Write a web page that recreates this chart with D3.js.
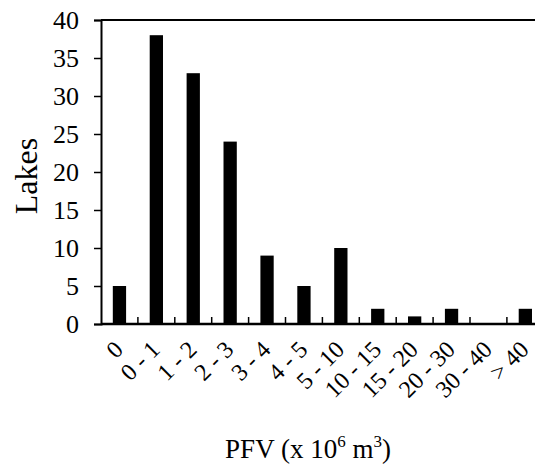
<!DOCTYPE html>
<html>
<head>
<meta charset="utf-8">
<script src="https://cdn.jsdelivr.net/npm/d3@7"></script>
<style>
  body { margin: 0; background: #fff; }
  text { font-family: "Liberation Serif", "Times New Roman", serif; fill: #000; }
</style>
</head>
<body>
<div id="chart"></div>
<script>
// PFV classes (x 10^6 m3) and number of lakes in each
var categories = ['0', '0 - 1', '1 - 2', '2 - 3', '3 - 4', '4 - 5', '5 - 10', '10 - 15', '15 - 20', '20 - 30', '30 - 40', '> 40'];
var lakes = [5, 38, 33, 24, 9, 5, 10, 2, 1, 2, 0, 2];
var yTicks = [0, 5, 10, 15, 20, 25, 30, 35, 40];

const width = 535;
const height = 466;
const margin = { top: 20, left: 101, bottom: 142 };
const plotBottom = height - margin.bottom;

const svg = d3.select('#chart')
  .append('svg')
  .attr('width', width)
  .attr('height', height);

// band runs past the right edge, the original figure is cropped there
const xScale = d3.scaleBand()
  .domain(categories)
  .range([margin.left, margin.left + 12 * 36.9])
  .padding(0);
const yScale = d3.scaleLinear()
  .domain([0, 40])
  .range([plotBottom, margin.top]);

const barW = xScale.bandwidth() * 0.36;

svg.selectAll('.bar')
  .data(categories)
  .enter()
  .append('rect')
  .classed('bar', true)
  .attr('x', (d, i) => xScale(d) + xScale.bandwidth() / 2 - barW / 2)
  .attr('y', (d, i) => yScale(lakes[i]))
  .attr('width', barW)
  .attr('height', (d, i) => plotBottom - yScale(lakes[i]))
  .attr('fill', '#000');

// y axis
const yAxis = d3.axisLeft(yScale)
  .tickValues(yTicks)
  .tickSize(7)
  .tickPadding(15);

const gy = svg.append('g')
  .attr('transform', `translate(${margin.left},0)`)
  .call(yAxis);
gy.select('.domain').attr('stroke-width', 2);
gy.selectAll('.tick line').attr('stroke-width', 1.5);
gy.selectAll('.tick text')
  .style('font-size', '26px');

// x axis: ticks sit on the class boundaries and point up into the plot
const boundaries = categories.slice(1);
const gx = svg.append('g').attr('transform', `translate(0,${plotBottom})`);
gx.append('line')
  .attr('x1', margin.left)
  .attr('x2', width)
  .attr('stroke', '#000')
  .attr('stroke-width', 2.5);
gx.selectAll('.xtick')
  .data(boundaries)
  .enter()
  .append('line')
  .attr('x1', d => xScale(d))
  .attr('x2', d => xScale(d))
  .attr('y1', 0)
  .attr('y2', -7)
  .attr('stroke', '#000')
  .attr('stroke-width', 1.5);

gx.selectAll('.xlabel')
  .data(categories)
  .enter()
  .append('text')
  .attr('transform', d => `translate(${xScale(d) + xScale.bandwidth() / 2 - 1},${21}) rotate(-45)`)
  .attr('text-anchor', 'end')
  .attr('dy', '0.35em')
  .style('font-size', '24px')
  .text(d => d);

// top frame line
svg.append('line')
  .attr('x1', margin.left)
  .attr('x2', width)
  .attr('y1', margin.top)
  .attr('y2', margin.top)
  .attr('stroke', '#000')
  .attr('stroke-width', 2);

// axis titles
svg.append('text')
  .attr('transform', `translate(37,176) rotate(-90)`)
  .attr('text-anchor', 'middle')
  .style('font-size', '32px')
  .text('Lakes');

const title = svg.append('text')
  .attr('x', 308)
  .attr('y', 458)
  .attr('text-anchor', 'middle')
  .style('font-size', '27px');
title.append('tspan').text('PFV (x 10');
title.append('tspan').attr('dy', -11).style('font-size', '17px').text('6');
title.append('tspan').attr('dy', 11).text(' m');
title.append('tspan').attr('dy', -11).style('font-size', '17px').text('3');
title.append('tspan').attr('dy', 11).text(')');
</script>
</body>
</html>
